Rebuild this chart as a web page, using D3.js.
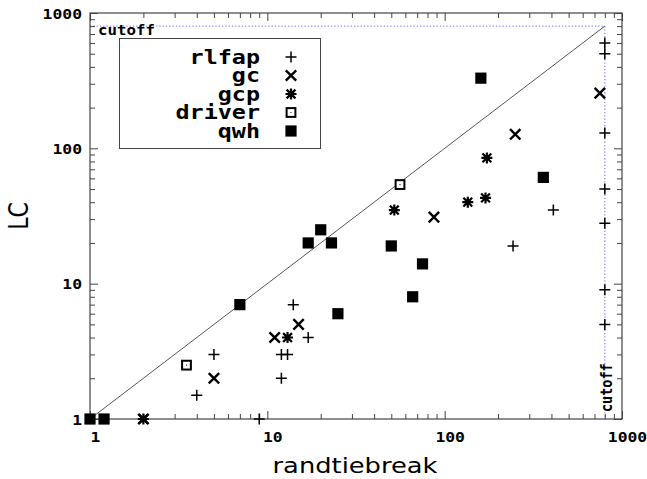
<!DOCTYPE html>
<html lang="en">
<head>
<meta charset="UTF-8">
<title>LC vs randtiebreak</title>
<script src="https://d3js.org/d3.v7.min.js"></script>
<style>
    body { margin: 0; background: white; }
    .mono { font-family: "DejaVu Sans Mono", monospace; font-weight: bold; }
    .title { font-family: "DejaVu Sans", sans-serif; }
</style>
</head>
<body>
<div id="chart"></div>
<script>
// values
const cutoff = 800;
const majorTicks = [1, 10, 100, 1000];
const minorTicks = [2,3,4,5,6,7,8,9, 20,30,40,50,60,70,80,90, 200,300,400,500,600,700,800,900];

const rlfap  = [[4,1.5],[5,3],[9,1],[12,2],[12,3],[13,3],[14,7],[17,4],[243,19],[410,35],
                [800,600],[800,500],[800,130],[800,50],[800,28],[800,9],[800,5]];
const gc     = [[2,1],[5,2],[11,4],[15,5],[87,31],[250,127],[750,256]];
const gcp    = [[2,1],[13,4],[52,35],[135,40],[170,43],[173,85]];
const driver = [[3.5,2.5],[56,54]];
const qwh    = [[1,1],[1.2,1],[7,7],[17,20],[20,25],[23,20],[25,6],[50,19],[66,8],[75,14],[160,330],[360,61]];

const seriesNames = ["rlfap", "gc", "gcp", "driver", "qwh"];
const seriesData = [rlfap, gc, gcp, driver, qwh];

const W = 647, H = 479;
const plot = {left: 90, right: 622, top: 13, bottom: 419};
const sx = 1.17; // text in the picture is a little wide

const svg = d3.select("#chart").append("svg")
    .attr("width", W).attr("height", H);

const x = d3.scaleLog().domain([1, 1000]).range([plot.left, plot.right]);
const y = d3.scaleLog().domain([1, 1000]).range([plot.bottom, plot.top]);

// cutoff lines
svg.append("line")
    .attr("x1", x(1)).attr("x2", x(cutoff))
    .attr("y1", y(cutoff)).attr("y2", y(cutoff))
    .attr("stroke", "#8c8cff").attr("stroke-width", 1.3).attr("stroke-dasharray", "1.3,2");
svg.append("line")
    .attr("x1", x(cutoff)).attr("x2", x(cutoff))
    .attr("y1", y(cutoff)).attr("y2", y(1))
    .attr("stroke", "#8c8cff").attr("stroke-width", 1.3).attr("stroke-dasharray", "1.3,2");

// diagonal y = x
svg.append("line")
    .attr("x1", x(1)).attr("y1", y(1))
    .attr("x2", x(cutoff)).attr("y2", y(cutoff))
    .attr("stroke", "#555").attr("stroke-width", 1);

// axes: majors and minors, ticks inward on all sides
function fixAxis(g) {
    g.select(".domain").remove();
    g.selectAll("line").attr("stroke", "#444");
}
const axBottom = svg.append("g").attr("transform", `translate(0,${plot.bottom})`);
axBottom.append("g").call(d3.axisBottom(x).tickValues(minorTicks).tickSize(-5).tickSizeOuter(0).tickFormat("")).call(fixAxis);
axBottom.append("g").call(d3.axisBottom(x).tickValues(majorTicks).tickSize(-8).tickSizeOuter(0).tickFormat(d3.format("d"))).call(fixAxis);
axBottom.selectAll("text")
    .attr("class", "mono").attr("font-size", 14).attr("fill", "#000")
    .attr("y", 23.5).attr("dy", null).attr("x", 5 / sx)
    .attr("transform", `scale(${sx},1)`);

const axTop = svg.append("g").attr("transform", `translate(0,${plot.top})`);
axTop.append("g").call(d3.axisTop(x).tickValues(minorTicks).tickSize(-5).tickSizeOuter(0).tickFormat("")).call(fixAxis);
axTop.append("g").call(d3.axisTop(x).tickValues(majorTicks).tickSize(-8).tickSizeOuter(0).tickFormat("")).call(fixAxis);

const axLeft = svg.append("g").attr("transform", `translate(${plot.left},0)`);
axLeft.append("g").call(d3.axisLeft(y).tickValues(minorTicks).tickSize(-5).tickSizeOuter(0).tickFormat("")).call(fixAxis);
axLeft.append("g").call(d3.axisLeft(y).tickValues(majorTicks).tickSize(-8).tickSizeOuter(0).tickFormat(d3.format("d"))).call(fixAxis);
axLeft.selectAll("text")
    .attr("class", "mono").attr("font-size", 14).attr("fill", "#000")
    .attr("x", -8 / sx).attr("dy", "0.36em")
    .attr("transform", `scale(${sx},1)`);

const axRight = svg.append("g").attr("transform", `translate(${plot.right},0)`);
axRight.append("g").call(d3.axisRight(y).tickValues(minorTicks).tickSize(-5).tickSizeOuter(0).tickFormat("")).call(fixAxis);
axRight.append("g").call(d3.axisRight(y).tickValues(majorTicks).tickSize(-8).tickSizeOuter(0).tickFormat("")).call(fixAxis);

// frame
svg.append("rect")
    .attr("x", x(1)).attr("y", y(1000))
    .attr("width", x(1000) - x(1)).attr("height", y(1) - y(1000))
    .attr("fill", "none").attr("stroke", "#444").attr("stroke-width", 1.2);

// point symbols like gnuplot's pt 1..5
function drawSymbol(g, type) {
    if (type === 0) {
        g.append("path").attr("d", "M-5.5,0H5.5M0,-5.5V5.5")
            .attr("stroke", "#000").attr("stroke-width", 1.5);
    } else if (type === 1) {
        g.append("path").attr("d", "M-5.2,-5.2L5.2,5.2M-5.2,5.2L5.2,-5.2")
            .attr("stroke", "#000").attr("stroke-width", 2.4);
    } else if (type === 2) {
        g.append("path").attr("d", "M-5.5,0H5.5M0,-5.5V5.5M-4.4,-4.4L4.4,4.4M-4.4,4.4L4.4,-4.4")
            .attr("stroke", "#000").attr("stroke-width", 2.2);
    } else if (type === 3) {
        g.append("rect").attr("x", -4.4).attr("y", -4.4).attr("width", 8.8).attr("height", 8.8)
            .attr("fill", "white").attr("stroke", "#000").attr("stroke-width", 2);
        g.append("rect").attr("x", -0.5).attr("y", -0.5).attr("width", 1).attr("height", 1).attr("fill", "#000");
    } else {
        g.append("rect").attr("x", -5.6).attr("y", -5.6).attr("width", 11.2).attr("height", 11.2)
            .attr("fill", "#000");
    }
}

seriesData.forEach(function(data, i) {
    svg.append("g").selectAll("g")
        .data(data)
        .join("g")
        .attr("transform", d => `translate(${x(d[0])},${y(d[1])})`)
        .each(function() { drawSymbol(d3.select(this), i); });
});

// cutoff labels
svg.append("text").attr("class", "mono").attr("font-size", 13.5)
    .attr("transform", `translate(98,35) scale(${sx},1)`)
    .text("cutoff");
svg.append("text").attr("class", "mono").attr("font-size", 13.5)
    .attr("transform", `translate(612,412) scale(${sx},1) rotate(-90)`)
    .text("cutoff");

// legend
const legend = svg.append("g");
legend.append("rect")
    .attr("x", 119.5).attr("y", 38.5).attr("width", 201).attr("height", 110)
    .attr("fill", "white").attr("stroke", "#444").attr("stroke-width", 1);
seriesNames.forEach(function(name, i) {
    const cy = 57 + i * 18.5;
    legend.append("text").attr("class", "mono").attr("font-size", 20)
        .attr("text-anchor", "end")
        .attr("transform", `translate(260,${cy + 6.5}) scale(${sx},1)`)
        .text(name);
    const g = legend.append("g").attr("transform", `translate(291,${cy})`);
    drawSymbol(g, i);
});

// axis titles
svg.append("text").attr("class", "title").attr("font-size", 22)
    .attr("text-anchor", "middle")
    .attr("transform", `translate(355,473) scale(${sx},1)`)
    .text("randtiebreak");
svg.append("text").attr("class", "title").attr("font-size", 22)
    .attr("text-anchor", "middle")
    .attr("transform", `translate(28,216) scale(${sx},1) rotate(-90)`)
    .text("LC");
</script>
</body>
</html>
